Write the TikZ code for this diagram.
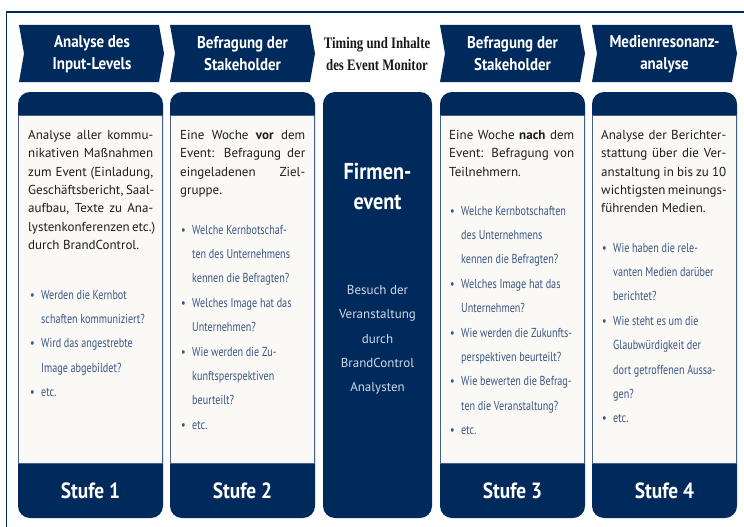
\documentclass[tikz,border=0pt]{standalone}
\usepackage{fontspec}
\setmainfont{PT Sans}
\newfontfamily\cond[FakeStretch=0.78]{PT Sans}
\newfontfamily\hdr[FakeStretch=0.88]{PT Sans}
\newfontfamily\serc[FakeStretch=0.8]{Liberation Serif}
\definecolor{navy}{RGB}{0,42,92}
\definecolor{bodyc}{RGB}{250,249,246}
\definecolor{edge}{RGB}{70,95,135}
\definecolor{txt}{RGB}{30,30,30}
\definecolor{bulc}{RGB}{58,86,132}
\definecolor{lightt}{RGB}{208,216,230}
\newcommand{\J}[1]{\makebox[125pt][s]{#1}}
\tikzset{
  chev/.style={fill=navy},
  hdrtxt/.style={text=white, font=\hdr\bfseries\fontsize{17}{22}\selectfont, align=center, inner sep=0pt},
  sertxt/.style={text=black!90, font=\serc\bfseries\fontsize{16}{22}\selectfont, align=center, inner sep=0pt},
  cardbg/.style={fill=navy, rounded corners=12pt},
  cardbody/.style={fill=bodyc, draw=edge, line width=0.8pt},
  bodytxt/.style={text=txt, font=\fontsize{13}{18}\selectfont, anchor=base west, inner sep=0pt},
  bultxt/.style={text=bulc, font=\cond\fontsize{13}{18}\selectfont, anchor=base west, inner sep=0pt},
  stufetxt/.style={text=white, font=\hdr\bfseries\fontsize{22}{26}\selectfont, inner sep=0pt},
  firmtxt/.style={text=white, font=\hdr\bfseries\fontsize{23}{30}\selectfont, align=center, inner sep=0pt},
  besuchtxt/.style={text=lightt, font=\fontsize{13}{24.3}\selectfont, align=center, inner sep=0pt},
}
\begin{document}
\begin{tikzpicture}[x=1pt, y=-1pt]
\useasboundingbox (0,0) rectangle (744,527);
\clip (0,0) rectangle (744,527);
% outer frame
\draw[navy, line width=1.6pt] (6.5,540) -- (6.5,12) -- (760,12);
% chevrons
\foreach \a/\n in {19/1,170/2,440/3,592/4}{
  \fill[chev] (\a,25) -- ({\a+140},25) -- ({\a+145},53.5) -- ({\a+140},82) -- (\a,82) -- ({\a+5},53.5) -- cycle;
}
\node[hdrtxt, name=h1] at (92,54) {Analyse des\\Input-Levels};
\node[hdrtxt, name=h2] at (242.5,54) {Befragung der\\Stakeholder};
\node[sertxt, name=h0] at (377,54) {Timing und Inhalte\\des Event Monitor};
\node[hdrtxt, name=h3] at (512.5,54) {Befragung der\\Stakeholder};
\node[hdrtxt, name=h4] at (664.5,54) {Medienresonanz-\\analyse};
% cards
\foreach \a/\n in {18/1,170/2,440/3,592/4}{
  \fill[cardbg] (\a,92) rectangle ({\a+145},518);
  \filldraw[cardbody] ({\a+0.6},115) rectangle ({\a+144.4},463);
  \node[stufetxt, name=stufe\n] at ({\a+72.5},491) {Stufe \n};
}
\fill[cardbg] (323,92) rectangle (432,518);
\node[firmtxt, name=firm] at (377.5,186) {Firmen-\\event};
\node[besuchtxt, name=besuch] at (377.5,340) {Besuch der\\Veranstaltung\\durch\\BrandControl\\Analysten};
% column 1
\foreach \t [count=\i] in {\J{Analyse aller kommu-}, \J{nikativen Maßnahmen}, {\J{zum Event (Einladung,}}, {\J{Geschäftsbericht, Saal-}}, {\J{aufbau, Texte zu Ana-}}, \J{lystenkonferenzen etc.)}, durch BrandControl.}
  \node[bodytxt, name=pa\i] at (28,{139.5+(\i-1)*18.3}) {\t};
\foreach \b/\t [count=\i] in {1/Werden die Kernbot, 0/schaften kommuniziert?, 1/Wird das angestrebte, 0/Image abgebildet?, 1/etc.}
  \node[bultxt, name=qa\i] at (41,{299+(\i-1)*24.4}) {\ifnum\b=1 \llap{\textbullet\hspace{6.5pt}}\fi\t};
% column 2
\foreach \t [count=\i] in {\J{Eine Woche \textbf{vor} dem}, \J{Event: Befragung der}, \J{eingeladenen Ziel-}, gruppe.}
  \node[bodytxt, name=pb\i] at (180,{139.5+(\i-1)*18.3}) {\t};
\foreach \b/\t [count=\i] in {1/Welche Kernbotschaf-, 0/ten des Unternehmens, 0/kennen die Befragten?, 1/Welches Image hat das, 0/Unternehmen?, 1/Wie werden die Zu-, 0/kunftsperspektiven, 0/beurteilt?, 1/etc.}
  \node[bultxt, name=qb\i] at (192,{234+(\i-1)*24.4}) {\ifnum\b=1 \llap{\textbullet\hspace{6.5pt}}\fi\t};
% column 3
\foreach \t [count=\i] in {\J{Eine Woche \textbf{nach} dem}, \J{Event: Befragung von}, Teilnehmern.}
  \node[bodytxt, name=pc\i] at (449,{139.5+(\i-1)*18.3}) {\t};
\foreach \b/\t [count=\i] in {1/Welche Kernbotschaften, 0/des Unternehmens, 0/kennen die Befragten?, 1/Welches Image hat das, 0/Unternehmen?, 1/Wie werden die Zukunfts-, 0/perspektiven beurteilt?, 1/Wie bewerten die Befrag-, 0/ten die Veranstaltung?, 1/etc.}
  \node[bultxt, name=qc\i] at (461,{215+(\i-1)*24.4}) {\ifnum\b=1 \llap{\textbullet\hspace{6.5pt}}\fi\t};
% column 4
\foreach \t [count=\i] in {\J{Analyse der Berichter-}, \J{stattung über die Ver-}, \J{anstaltung in bis zu 10}, \J{wichtigsten meinungs-}, führenden Medien.}
  \node[bodytxt, name=pd\i] at (601,{139.5+(\i-1)*18.3}) {\t};
\foreach \b/\t [count=\i] in {1/Wie haben die rele-, 0/vanten Medien darüber, 0/berichtet?, 1/Wie steht es um die, 0/Glaubwürdigkeit der, 0/dort getroffenen Aussa-, 0/gen?, 1/etc.}
  \node[bultxt, name=qd\i] at (613,{252+(\i-1)*24.4}) {\ifnum\b=1 \llap{\textbullet\hspace{6.5pt}}\fi\t};
\end{tikzpicture}
\end{document}
